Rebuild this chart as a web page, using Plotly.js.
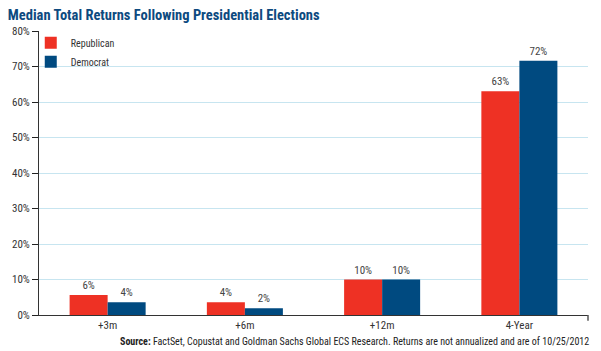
<!DOCTYPE html>
<html><head><meta charset="utf-8">
<script src="https://cdn.plot.ly/plotly-3.0.1.min.js"></script>
<style>body{margin:0;padding:0;background:#fff}#chart{width:601px;height:351px}</style>
</head><body><div id="chart"></div>
<script>
const categories = ['+3m', '+6m', '+12m', '4-Year'];
const republican = [5.6, 3.6, 10, 63];
const democrat = [3.6, 1.9, 10, 71.6];
const seriesNames = ['Republican', 'Democrat'];
const yTicks = [0, 10, 20, 30, 40, 50, 60, 70, 80];
const yTickLabels = yTicks.map(v => v + '%');

const FONT = '"Liberation Sans Narrow", "Arial Narrow", "Roboto Condensed", sans-serif';
const mk = (name, y, color) => ({
  type: 'bar', name: name, x: categories, y: y,
  marker: {color: color},
  texttemplate: '%{y:.0f}%', textposition: 'outside', cliponaxis: false,
  textfont: {family: FONT, size: 11, color: '#444'},
  hoverinfo: 'skip'
});
const data = [mk(seriesNames[0], republican, '#ee3124'), mk(seriesNames[1], democrat, '#004a80')];
const layout = {
  width: 601, height: 351,
  margin: {l: 39, r: 13, t: 31, b: 36},
  paper_bgcolor: '#fff', plot_bgcolor: '#fff',
  bargap: 0.446, bargroupgap: 0,
  showlegend: true,
  legend: {x: -0.015, y: 1.01, xanchor: 'left', yanchor: 'top', bgcolor: 'rgba(0,0,0,0)',
           font: {family: FONT, size: 10, color: '#333'}, tracegroupgap: 0, itemwidth: 30},
  title: {text: '<b>Median Total Returns Following Presidential Elections</b>',
          x: 0.013, xanchor: 'left', y: 0.958, yanchor: 'middle',
          font: {family: FONT, size: 14.5, color: '#0d4a7f'}},
  xaxis: {showline: true, linecolor: '#333', linewidth: 1, ticks: '', showgrid: false,
          tickfont: {family: FONT, size: 11, color: '#333'}, fixedrange: true},
  yaxis: {range: [0, 80], tickvals: yTicks, ticktext: yTickLabels, showline: true,
          linecolor: '#333', linewidth: 1, ticks: 'outside', ticklen: 6, tickcolor: '#222',
          gridcolor: '#c7e5f0', gridwidth: 1, zeroline: false,
          tickfont: {family: FONT, size: 11, color: '#333'}},
  shapes: [{type: 'line', xref: 'paper', yref: 'paper', x0: 1, x1: 1, y0: 0, y1: -0.02,
            line: {color: '#555', width: 1.5}}],
  annotations: [{xref: 'paper', yref: 'paper', x: 1.005, y: -0.092, xanchor: 'right', yanchor: 'middle',
                 showarrow: false,
                 text: '<b>Source:</b> FactSet, Copustat and Goldman Sachs Global ECS Research. Returns are not annualized and are of 10/25/2012',
                 font: {family: FONT, size: 10, color: '#222'}}]
};
Plotly.newPlot('chart', data, layout, {displayModeBar: false, staticPlot: true});
</script></body></html>
